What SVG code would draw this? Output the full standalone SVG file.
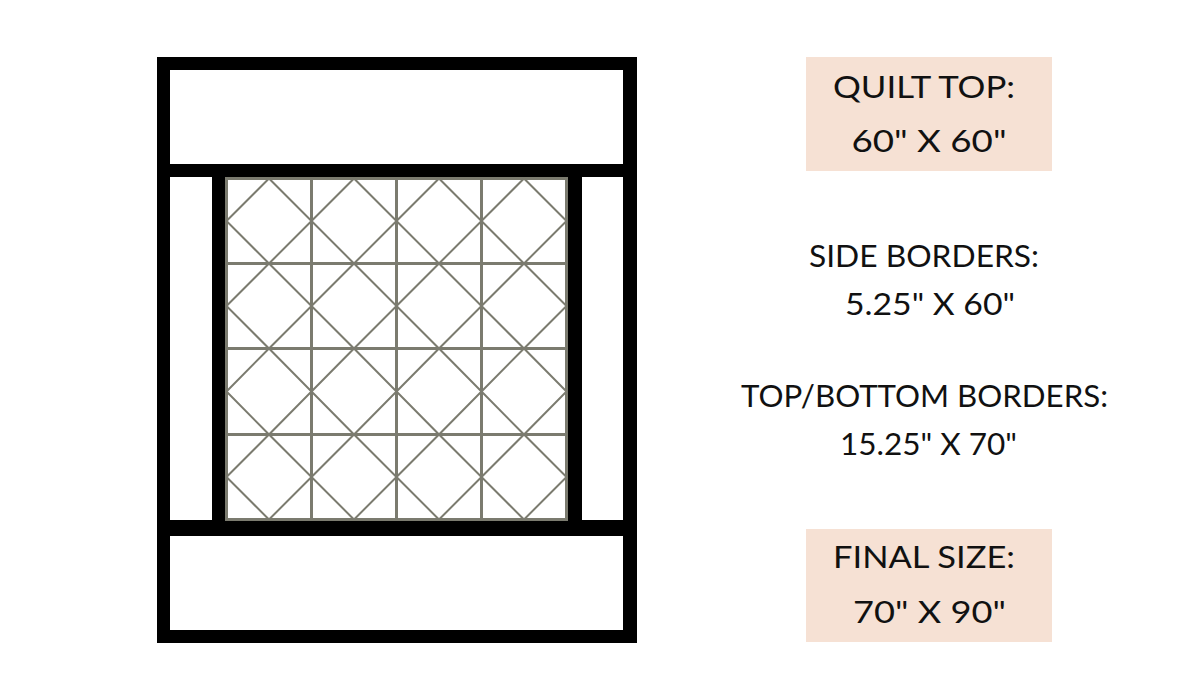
<svg xmlns="http://www.w3.org/2000/svg" width="1200" height="700" viewBox="0 0 1200 700">
<style>
.blk{fill:#000}
.grid{stroke:#7b7b6f;stroke-width:3;fill:none}
.diag{stroke:#7b7b6f;stroke-width:2;fill:none}
.lbl{font-family:Lato,"Open Sans","Liberation Sans",sans-serif;font-size:31px;fill:#111;text-anchor:middle}
.box{fill:#f6e1d4}
</style>
<rect width="1200" height="700" fill="#fff"/>
<g id="quilt">
  <g id="frame">
    <rect x="157" y="57" width="480" height="586" fill="#fff"/>
    <rect class="blk" x="157" y="57" width="480" height="13"/>
    <rect class="blk" x="157" y="630" width="480" height="13"/>
    <rect class="blk" x="157" y="57" width="13" height="586"/>
    <rect class="blk" x="623" y="57" width="14" height="586"/>
    <rect class="blk" x="157" y="164" width="480" height="13"/>
    <rect class="blk" x="157" y="520" width="480" height="16"/>
    <rect class="blk" x="212" y="164" width="13" height="372"/>
    <rect class="blk" x="568" y="164" width="14" height="372"/>
  </g>
  <g id="center">
    <rect x="226.5" y="178.5" width="340" height="341" fill="#fff" class="grid"/>
    <path class="grid" d="M311.5 178.5V519.5M396.5 178.5V519.5M481.5 178.5V519.5M226.5 263.5H566.5M226.5 348.5H566.5M226.5 434.5H566.5"/>
    <path class="diag" d="
M226.5 221L269 178.5L311.5 221L269 263.5Z
M311.5 221L354 178.5L396.5 221L354 263.5Z
M396.5 221L439 178.5L481.5 221L439 263.5Z
M481.5 221L524 178.5L566.5 221L524 263.5Z
M226.5 306L269 263.5L311.5 306L269 348.5Z
M311.5 306L354 263.5L396.5 306L354 348.5Z
M396.5 306L439 263.5L481.5 306L439 348.5Z
M481.5 306L524 263.5L566.5 306L524 348.5Z
M226.5 391.5L269 348.5L311.5 391.5L269 434.5Z
M311.5 391.5L354 348.5L396.5 391.5L354 434.5Z
M396.5 391.5L439 348.5L481.5 391.5L439 434.5Z
M481.5 391.5L524 348.5L566.5 391.5L524 434.5Z
M226.5 477L269 434.5L311.5 477L269 519.5Z
M311.5 477L354 434.5L396.5 477L354 519.5Z
M396.5 477L439 434.5L481.5 477L439 519.5Z
M481.5 477L524 434.5L566.5 477L524 519.5Z"/>
  </g>
</g>
<g id="quilt-top">
  <rect class="box" x="806" y="57" width="246" height="114"/>
  <text class="lbl" x="924" y="98" textLength="182" lengthAdjust="spacingAndGlyphs">QUILT TOP:</text>
  <text class="lbl" x="929" y="152" textLength="155" lengthAdjust="spacingAndGlyphs">60" X 60"</text>
</g>
<g id="side-borders">
  <text class="lbl" x="924" y="267" textLength="230" lengthAdjust="spacingAndGlyphs">SIDE BORDERS:</text>
  <text class="lbl" x="930" y="315" textLength="170" lengthAdjust="spacingAndGlyphs">5.25" X 60"</text>
</g>
<g id="top-bottom-borders">
  <text class="lbl" x="924.5" y="407" textLength="367" lengthAdjust="spacingAndGlyphs">TOP/BOTTOM BORDERS:</text>
  <text class="lbl" x="928.5" y="455" textLength="177" lengthAdjust="spacingAndGlyphs">15.25" X 70"</text>
</g>
<g id="final-size">
  <rect class="box" x="806" y="529" width="246" height="113"/>
  <text class="lbl" x="924" y="568" textLength="182" lengthAdjust="spacingAndGlyphs">FINAL SIZE:</text>
  <text class="lbl" x="929.5" y="623" textLength="153" lengthAdjust="spacingAndGlyphs">70" X 90"</text>
</g>
</svg>
